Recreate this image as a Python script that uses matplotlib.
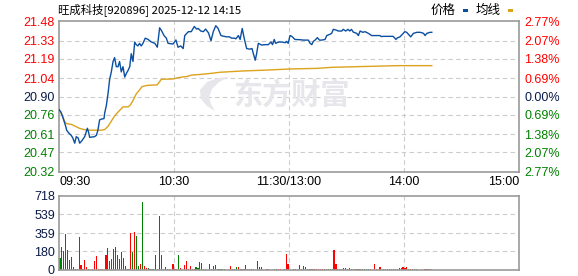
import matplotlib
matplotlib.use("Agg")
import matplotlib.pyplot as plt
from matplotlib.patches import Rectangle, Polygon

plt.rcParams['font.family'] = ['Noto Sans CJK SC', 'DejaVu Sans']

# ---------------- data ----------------
title = "旺成科技[920896] 2025-12-12 14:15"
prev_close = 20.90
price_ticks = [21.48, 21.33, 21.19, 21.04, 20.90, 20.76, 20.61, 20.47, 20.32]
pct_labels = ["2.77%", "2.07%", "1.38%", "0.69%", "0.00%", "0.69%", "1.38%", "2.07%", "2.77%"]
time_ticks = [0, 60, 120, 180, 240]
time_labels = ["09:30", "10:30", "11:30/13:00", "14:00", "15:00"]
vol_ticks = [0, 180, 359, 539, 718]

price_min = [0, 1, 2, 3.5, 4, 5, 6.4, 7.2, 8.2, 9, 10, 10.8, 12, 13.4, 14.8, 15.5, 16, 18.5, 19.5,
             20.3, 21.2, 22, 23.5, 23.8, 24.7, 25.6, 26.4, 27.3, 28.2, 29, 29.9, 30.8, 31.6, 32.5,
             33.4, 34.3, 35.2, 36, 36.9, 37.7, 38.6, 39.5, 40.3, 41.2, 42, 42.9, 43.8, 45, 46.5,
             48.2, 50, 51.3, 52.5, 53.4, 54.8, 56, 56.9, 59.5, 61, 62.1, 63.5, 64.8, 65.6, 67.5,
             69, 70.6, 71.8, 72.6, 74, 75.3, 76.5, 78, 79.3, 80.5, 81.8, 83, 84.5, 85.8, 87.5, 89,
             90, 91.5, 92.3, 93.6, 94.5, 95.6, 96.6, 97.9, 99.5, 100.7, 101.4, 102.4, 103.1, 104,
             105.7, 107.5, 109.2, 110.6, 111.4, 112.3, 113, 114.6, 116.4, 118.1, 118.7, 119.6,
             120.5, 121.4, 123.1, 125.7, 127.5, 130.1, 131, 131.9, 132.7, 133.6, 134.8, 135.9,
             137.1, 138.8, 139.7, 141.4, 142.3, 143.1, 144.5, 145.7, 147.5, 148.3, 149.6, 150.8,
             151.7, 152.6, 153.5, 155.3, 156.2, 157.1, 158.5, 159.7, 161.4, 163.1, 164.8, 167.4,
             168.2, 169.1, 171.7, 174.3, 175.8, 176.5, 177.9, 179.6, 180.5, 181.4, 182.3, 183.5,
             184.9, 186.7, 188.5, 190.2, 191, 191.9, 193.6, 194.5]
price_val = [20.80, 20.78, 20.74, 20.67, 20.64, 20.62, 20.60, 20.58, 20.54, 20.59, 20.58, 20.54,
             20.56, 20.59, 20.655, 20.62, 20.585, 20.59, 20.60, 20.64, 20.72, 20.725, 20.73, 20.77,
             20.83, 20.925, 21.03, 21.09, 21.17, 21.20, 21.13, 21.13, 21.17, 21.09, 21.13, 21.05,
             21.08, 21.10, 21.13, 21.23, 21.17, 21.32, 21.30, 21.29, 21.31, 21.29, 21.31, 21.35,
             21.34, 21.32, 21.31, 21.28, 21.43, 21.41, 21.37, 21.35, 21.31, 21.305, 21.336, 21.28,
             21.29, 21.27, 21.37, 21.40, 21.40, 21.44, 21.42, 21.425, 21.405, 21.40, 21.42, 21.39,
             21.33, 21.40, 21.446, 21.425, 21.37, 21.365, 21.36, 21.36, 21.35, 21.35, 21.345,
             21.37, 21.34, 21.425, 21.35, 21.27, 21.265, 21.27, 21.23, 21.18, 21.23, 21.31, 21.297,
             21.30, 21.30, 21.32, 21.30, 21.34, 21.31, 21.32, 21.32, 21.315, 21.325, 21.31, 21.37,
             21.365, 21.34, 21.338, 21.335, 21.335, 21.31, 21.30, 21.325, 21.335, 21.354, 21.335,
             21.335, 21.34, 21.37, 21.38, 21.388, 21.418, 21.413, 21.405, 21.405, 21.418, 21.405,
             21.418, 21.405, 21.418, 21.397, 21.387, 21.37, 21.405, 21.395, 21.40, 21.387, 21.37,
             21.37, 21.37, 21.362, 21.364, 21.364, 21.364, 21.34, 21.352, 21.36, 21.387, 21.40,
             21.395, 21.38, 21.36, 21.387, 21.395, 21.395, 21.387, 21.37, 21.387, 21.395, 21.395]

avg_min = [0, 1.5, 3, 4, 6.5, 8.5, 10.7, 13, 15.5, 22, 23.8, 25.6, 27.3, 29, 30.8, 33.4, 36, 37,
           38.6, 40.3, 42, 43.3, 45.6, 51.3, 53.4, 59.5, 62, 67.3, 69, 74.4, 79.7, 84, 96, 109,
           120, 134.5, 142.3, 155.3, 177, 194.5]
avg_val = [20.80, 20.76, 20.706, 20.69, 20.685, 20.67, 20.655, 20.645, 20.64, 20.64, 20.645,
           20.67, 20.71, 20.75, 20.78, 20.82, 20.82, 20.83, 20.868, 20.92, 20.95, 20.976, 20.985,
           20.99, 21.033, 21.035, 21.045, 21.056, 21.065, 21.071, 21.079, 21.087, 21.097,
           21.104, 21.112, 21.117, 21.125, 21.13, 21.138, 21.138]

# volume bars: minute index, volume, direction (R = up / red, G = down / green)
vol_min = ([0, 1, 2, 3, 4, 5, 6, 7, 8, 9, 10, 11, 12, 13, 14, 15, 17, 18, 19, 20, 21, 22]
           + [24, 25, 26, 27, 28, 29, 30, 31, 32, 33, 34, 35, 36, 37, 38, 39, 40, 41, 42, 43,
              44, 45, 46, 47, 48, 49, 50, 51, 52, 53, 54, 55, 56, 57, 59, 60, 61, 62, 63]
           + [65, 66, 67, 68, 69, 70, 71, 72, 73, 74, 75, 76, 78, 79, 80, 81, 82, 83, 84, 85, 86,
              89, 90, 91, 92, 93, 94, 95, 96, 97, 98, 99, 100, 101, 103, 104, 105, 108, 109,
              112, 113, 114, 115, 117, 118, 119]
           + [122, 123, 125, 126, 127, 128, 129, 130, 131, 132, 133, 134, 135, 136, 137, 138,
              139, 140, 141, 142, 143, 144, 145, 146, 147, 148, 149, 150, 151, 152, 153, 154,
              155, 156, 157, 158, 159, 160, 161, 162, 164, 165, 167, 169, 170, 171, 172, 173,
              174, 175, 176, 177, 178, 179, 180, 181, 182, 183, 184, 185, 186, 190, 191, 192,
              193, 194])
vol_val = ([120, 223, 188, 349, 194, 97, 129, 32, 13, 13, 320, 48, 13, 97, 32, 13, 13, 87, 136,
            13, 13, 13]
           + [146, 217, 87, 110, 204, 223, 146, 107, 175, 120, 39, 13, 13, 362, 175, 369, 330,
              39, 58, 663, 39, 19, 19, 13, 13, 13, 146, 13, 524, 146, 13, 32, 13, 13, 58, 13, 13,
              146, 20]
           + [48, 87, 13, 39, 13, 13, 29, 19, 81, 68, 10, 10, 58, 10, 39, 48, 10, 10, 10, 10, 10,
              39, 10, 10, 29, 29, 10, 10, 10, 48, 10, 10, 10, 10, 87, 29, 29, 10, 10,
              10, 10, 10, 10, 10, 155, 58]
           + [10, 10, 48, 10, 39, 29, 10, 10, 10, 10, 10, 10, 10, 10, 10, 10,
              10, 10, 10, 10, 194, 58, 10, 10, 10, 19, 19, 10, 19, 10, 10, 10,
              10, 10, 10, 10, 10, 10, 10, 10, 58, 10, 29, 10, 10, 10, 10, 10,
              10, 10, 10, 19, 19, 29, 19, 29, 10, 10, 10, 10, 10, 10, 10, 10,
              10, 10])
vol_dir = ("GGGGGRGGRRGRRRRGRRRRRR"
           + "RRRRRGRRGRGGGRGRGGRGRRGRGGGRRGGGRG" + "RRRGR"
           + "RRRRRRGGRGRRGRRRGGGGG" + "RRGGRGRRGRRRR" + "RGG" + "RR" + "GRRR" + "GRR"
           + "GG" + "GRGRRGG" + "RRRRRRRRGGG" + "RRGRRGGRRGGGRRGGGGGR" + "RR" + "R"
           + "GGRRRRRGRRRRRGRRGG" + "RRRRR")

# ---------------- styling ----------------
W, H = 578, 276
fig = plt.figure(figsize=(W / 100, H / 100), dpi=100)
fig.patch.set_facecolor("white")

L, R = 59, 519
ax = fig.add_axes([L / W, (H - 171.7) / H, (R - L) / W, 150.4 / H])
vax = fig.add_axes([L / W, (H - 270) / H, (R - L) / W, 74 / H])

num_font = "Liberation Sans"
red, green, dark = "#ff0000", "#008000", "#0a1a4a"
grid_kw = dict(color="#cccccc", linestyle=(0, (4, 3)), linewidth=0.8)
wm_color = "#e6e6eb"


def frame(a):
    for s in a.spines.values():
        s.set_color("#999999")
        s.set_linewidth(1.2)
    a.tick_params(length=0)


def px(x, y):
    return (x / W, 1 - y / H)


# watermark (logo swoosh + text)
logo_pts = [px(200, 90), px(207, 82), px(218, 78), px(229, 77), px(219, 82), px(212, 89),
            px(209, 97), px(211, 104), px(215, 111), px(207, 106), px(201, 99)]
fig.patches.append(Polygon(logo_pts, closed=True, transform=fig.transFigure,
                           facecolor=wm_color, edgecolor="none", zorder=0))
fig.text(291 / W, 1 - 95 / H, "东方财富", fontsize=21, fontweight="bold", color=wm_color,
         ha="center", va="center", zorder=0)

# price chart
frame(ax)
ax.set_xlim(0, 240)
ax.set_ylim(min(price_ticks), max(price_ticks))
for t in price_ticks[1:-1]:
    ax.axhline(t, zorder=1, **grid_kw)
for t in time_ticks[1:-1]:
    ax.axvline(t, zorder=1, **grid_kw)
ax.plot(price_min, price_val, color="#0b4fa3", linewidth=1.0, zorder=3)
ax.plot(avg_min, avg_val, color="#dca21c", linewidth=1.0, zorder=2)
ax.patch.set_alpha(0)

ax.set_yticks(price_ticks)
ax.set_yticklabels([f"{t:.2f}" for t in price_ticks], fontfamily=num_font, fontsize=9)
ax.tick_params(axis="y", pad=3)
for t, lab in zip(price_ticks, ax.get_yticklabels()):
    lab.set_color(red if t > prev_close + 1e-9 else (green if t < prev_close - 1e-9 else dark))

ax.set_xticks(time_ticks)
ax.set_xticklabels(time_labels, fontfamily=num_font, fontsize=9)
ax.tick_params(axis="x", pad=3, colors="black")
xl = ax.get_xticklabels()
xl[0].set_horizontalalignment("left")
xl[-1].set_horizontalalignment("right")

ax2 = ax.twinx()
ax2.set_ylim(ax.get_ylim())
ax2.set_yticks(price_ticks)
ax2.set_yticklabels(pct_labels, fontfamily=num_font, fontsize=9)
ax2.tick_params(length=0, pad=4)
for s in ax2.spines.values():
    s.set_visible(False)
for t, lab in zip(price_ticks, ax2.get_yticklabels()):
    lab.set_color(red if t > prev_close + 1e-9 else (green if t < prev_close - 1e-9 else dark))

# volume chart
frame(vax)
vax.set_xlim(0, 240)
vax.set_ylim(0, max(vol_ticks))
for t in vol_ticks[1:-1]:
    vax.axhline(t, zorder=1, **grid_kw)
for t in time_ticks[1:-1]:
    vax.axvline(t, zorder=1, **grid_kw)
n = min(len(vol_min), len(vol_val), len(vol_dir))
vcolors = [red if d == "R" else green for d in vol_dir[:n]]
vax.bar([m + 0.5 for m in vol_min[:n]], vol_val[:n], width=0.6, color=vcolors, zorder=2,
        linewidth=0)
vax.set_xticks([])
vax.set_yticks(vol_ticks)
vax.set_yticklabels([str(v) for v in vol_ticks], fontfamily=num_font, fontsize=9, color=dark)
vax.tick_params(axis="y", pad=3)

# title and legend
fig.text(58 / W, 1 - 10 / H, title, fontsize=8.2, ha="left", va="center", color="black")
fig.text(431 / W, 1 - 10 / H, "价格", fontsize=9, ha="left", va="center", color="black")
fig.text(476 / W, 1 - 10 / H, "均线", fontsize=9, ha="left", va="center", color="black")
fig.patches.append(Rectangle((463 / W, 1 - 12 / H), 5 / W, 3 / H, transform=fig.transFigure,
                             facecolor="#0b4fa3", edgecolor="none"))
fig.patches.append(Rectangle((508 / W, 1 - 12 / H), 5 / W, 3 / H, transform=fig.transFigure,
                             facecolor="#dca21c", edgecolor="none"))

print(len(vol_min), len(vol_val), len(vol_dir))
fig.savefig("out.png", dpi=100, facecolor="white")
